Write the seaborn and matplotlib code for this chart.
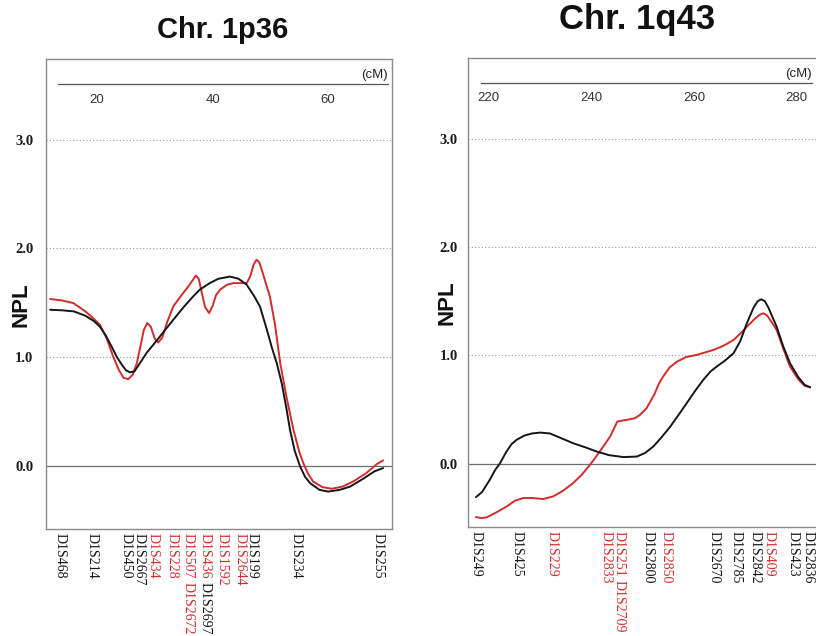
import numpy as np
import pandas as pd
import matplotlib
matplotlib.use("Agg")
import matplotlib.pyplot as plt
from matplotlib.ticker import MultipleLocator, FuncFormatter
import seaborn as sns

# ---------------- data ----------------
# Chr. 1p36
p36_black_cm = [11.9, 14.0, 16.0, 18.0, 19.5, 20.5, 21.5, 22.5, 23.4, 24.3, 25.0, 25.7, 26.5, 27.5,
                28.6, 30.0, 31.5, 33.2, 35.0, 36.5, 37.8, 39.5, 41.0, 43.0, 44.5, 45.9, 47.2, 48.2,
                49.4, 50.3, 51.1, 52.0, 52.8, 53.4, 54.2, 55.1, 56.0, 56.9, 58.5, 60.0, 62.0, 63.8,
                66.0, 68.0, 69.5]
p36_black_npl = [1.435, 1.43, 1.42, 1.38, 1.33, 1.28, 1.20, 1.10, 1.005, 0.93, 0.88, 0.86, 0.87, 0.95,
                 1.04, 1.13, 1.23, 1.343, 1.46, 1.55, 1.62, 1.68, 1.72, 1.74, 1.72, 1.665, 1.56, 1.465,
                 1.25, 1.08, 0.945, 0.75, 0.52, 0.33, 0.14, 0.0, -0.10, -0.16, -0.22, -0.236, -0.22, -0.19,
                 -0.12, -0.05, -0.02]
p36_red_cm = [11.9, 14.0, 15.9, 18.0, 19.5, 20.5, 21.7, 22.8, 23.8, 24.6, 25.4, 26.2, 26.9, 27.6,
              28.1, 28.7, 29.3, 30.0, 30.6, 31.3, 32.2, 33.2, 34.5, 35.8, 36.6, 37.1, 37.6, 38.1, 38.7, 39.4,
              40.0, 40.6, 41.3, 42.5, 43.6, 44.8, 45.9, 46.5, 47.1, 47.6, 48.1, 48.7, 49.2, 49.9, 50.8, 51.7, 52.8,
              54.0, 55.0, 55.7, 56.5, 57.4, 59.0, 60.6, 62.5, 64.3, 66.5, 68.5, 69.5]
p36_red_npl = [1.534, 1.52, 1.497, 1.42, 1.35, 1.297, 1.17, 1.005, 0.88, 0.81, 0.797, 0.84, 0.945, 1.12,
               1.25, 1.313, 1.28, 1.17, 1.134, 1.18, 1.33, 1.466, 1.56, 1.65, 1.71, 1.75, 1.72, 1.60, 1.46, 1.405,
               1.47, 1.57, 1.62, 1.665, 1.68, 1.68, 1.68, 1.74, 1.85, 1.895, 1.87, 1.77, 1.68, 1.56, 1.30, 0.945, 0.63,
               0.33, 0.13, 0.025, -0.07, -0.144, -0.195, -0.21, -0.19, -0.144, -0.07, 0.02, 0.05]

p36_markers = ["D1S468", "D1S214", "D1S450", "D1S2667", "D1S434", "D1S228", "D1S507", "D1S2672",
               "D1S436", "D1S2697", "D1S1592", "D1S2644", "D1S199", "D1S234", "D1S255"]
p36_marker_cm = [13.55, 19.2, 25.0, 27.3, 29.7, 33.0, 35.1, 36.3, 38.6, 38.9, 41.7, 44.7, 46.9, 54.5, 68.7]
p36_marker_red = [False, False, False, False, True, True, True, True, True, False, True, True, False, False, False]

# Chr. 1q43
q43_black_cm = [217.6, 218.8, 220.3, 221.3, 222.3, 223.5, 224.5, 225.5, 227.0, 228.5, 230.1, 232.0,
                234.0, 236.5, 239.0, 241.1, 243.5, 246.3, 248.9, 250.5, 252.1, 253.8, 255.4, 257.0,
                258.6, 260.2, 261.8, 263.2, 264.4, 266.0, 267.7, 269.0, 270.3, 271.6, 272.4, 273.1, 273.8, 274.5,
                276.1, 277.4, 278.7, 280.3, 281.5, 282.6]
q43_black_npl = [-0.307, -0.26, -0.147, -0.06, 0.006, 0.11, 0.18, 0.221, 0.26, 0.28, 0.288, 0.28,
                 0.24, 0.19, 0.15, 0.113, 0.08, 0.062, 0.067, 0.10, 0.159, 0.25, 0.343, 0.45,
                 0.559, 0.67, 0.773, 0.85, 0.896, 0.95, 1.019, 1.13, 1.296, 1.44, 1.50, 1.517, 1.50, 1.44,
                 1.264, 1.08, 0.927, 0.80, 0.73, 0.706]
q43_red_cm = [217.6, 218.6, 219.7, 221.5, 223.6, 225.2, 226.8, 228.5, 230.7, 232.6, 234.5, 236.5,
              238.2, 239.8, 241.8, 243.7, 245.1, 246.9, 248.5, 249.5, 250.8, 252.3, 253.2, 254.0,
              255.3, 256.7, 258.5, 260.5, 263.8, 265.8, 267.7, 269.0, 270.3, 271.9, 272.8, 273.5, 274.2, 274.8,
              276.1, 277.4, 278.7, 280.3, 281.5, 282.6]
q43_red_npl = [-0.491, -0.50, -0.494, -0.45, -0.393, -0.34, -0.316, -0.315, -0.325, -0.301, -0.25, -0.178,
               -0.10, -0.009, 0.12, 0.251, 0.39, 0.405, 0.42, 0.451, 0.513, 0.64, 0.74, 0.804,
               0.89, 0.942, 0.985, 1.004, 1.05, 1.09, 1.142, 1.20, 1.264, 1.34, 1.375, 1.388, 1.37, 1.33,
               1.234, 1.06, 0.896, 0.78, 0.72, 0.706]

q43_markers = ["D1S249", "D1S425", "D1S229", "D1S2833", "D1S251", "D1S2709", "D1S2800", "D1S2850",
               "D1S2670", "D1S2785", "D1S2842", "D1S409", "D1S423", "D1S2836"]
q43_marker_cm = [217.6, 225.5, 232.5, 243.9, 245.3, 245.6, 251.0, 254.5, 264.0, 268.2, 272.7, 274.4, 279.9, 282.6]
q43_marker_red = [False, False, True, True, True, True, False, True, False, False, False, True, False, False]

npl_ticks = [0.0, 1.0, 2.0, 3.0]
titles = ["Chr. 1p36", "Chr. 1q43"]

# ---------------- style ----------------
sns.set_theme(style="white")
plt.rcParams["font.family"] = ["Liberation Sans", "DejaVu Sans"]

W, H = 816, 636
fig = plt.figure(figsize=(W / 100, H / 100), dpi=100)
fig.patch.set_facecolor("white")

RED = "#d42b2b"
BLACK = "#151515"
FRAME = "#8a8a8a"
SERIF = ["Liberation Serif", "DejaVu Serif"]


def fx(px):
    return px / W


def fy(py):
    return 1 - py / H


panels = [
    dict(box=(46, 59, 392, 529), xlim=(11.18, 71.04), cm_bounds=(13.25, 70.35), cm_y=84,
         label_every=20,
         black=(p36_black_cm, p36_black_npl), red=(p36_red_cm, p36_red_npl),
         markers=p36_markers, mcm=p36_marker_cm, mred=p36_marker_red,
         pairs=[("D1S507", "D1S2672"), ("D1S436", "D1S2697")], nudge={},
         title=titles[0], title_xy=(223, 29.5), title_size=21, npl_xy=(21, 305), ytick_pad=9,
         right_spine=True),
    dict(box=(467.7, 58.3, 816, 526.7), xlim=(216.0, 283.75), cm_bounds=(218.6, 282.9), cm_y=82.7,
         label_every=20,
         black=(q43_black_cm, q43_black_npl), red=(q43_red_cm, q43_red_npl),
         markers=q43_markers, mcm=q43_marker_cm, mred=q43_marker_red,
         pairs=[("D1S251", "D1S2709")],
         nudge={"D1S2833": -5, "D1S2842": -4, "D1S409": 1, "D1S423": -3, "D1S2836": -2},
         title=titles[1], title_xy=(637, 19.5), title_size=25, npl_xy=(447, 303), ytick_pad=7,
         right_spine=False),
]

for P in panels:
    x0, y0, x1, y1 = P["box"]
    ax = fig.add_axes([fx(x0), fy(y1), fx(x1 - x0), (y1 - y0) / H])
    ax.set_facecolor("white")
    ax.set_xlim(*P["xlim"])
    ax.set_ylim(-0.58, 3.74)

    # grid
    for v in npl_ticks[1:]:
        ax.axhline(v, color="#9a9a9a", lw=0.8, ls=(0, (1, 2)), zorder=1)
    ax.axhline(0.0, color="#6e6e6e", lw=0.9, zorder=1)

    # curves
    bx, by = P["black"]
    rx, ry = P["red"]
    sns.lineplot(x=rx, y=ry, ax=ax, color=RED, lw=1.4, sort=False, zorder=3)
    sns.lineplot(x=bx, y=by, ax=ax, color=BLACK, lw=1.4, sort=False, zorder=4)

    # spines
    for s in ["left", "top", "bottom", "right"]:
        ax.spines[s].set_color(FRAME)
        ax.spines[s].set_linewidth(1.0)
    ax.spines["right"].set_visible(P["right_spine"])

    # y ticks
    ax.set_yticks(npl_ticks)
    ax.set_yticklabels([f"{v:.1f}" for v in npl_ticks], fontfamily=SERIF,
                       fontweight="bold", fontsize=10.5, color="#1a1a1a")
    ax.tick_params(axis="y", length=0, pad=P["ytick_pad"])

    # bottom marker ticks
    ax.set_xticks(P["mcm"])
    ax.set_xticklabels([""] * len(P["mcm"]))
    ax.tick_params(axis="x", length=4, width=0.9, color=FRAME, direction="out", pad=0)
    ax.set_xlabel("")
    ax.set_ylabel("")

    # marker labels
    pos = dict(zip(P["markers"], P["mcm"]))
    col = {m: (RED if r else BLACK) for m, r in zip(P["markers"], P["mred"])}
    paired = {}
    for a, b in P["pairs"]:
        mid = (pos[a] + pos[b]) / 2
        paired[a] = (mid, 0)
        paired[b] = (mid, 1)
    for m in P["markers"]:
        if m in paired:
            xv, row = paired[m]
        else:
            xv, row = pos[m], 0
        dx = P["nudge"].get(m, 0)
        dy = -4 if row == 0 else -53
        ax.annotate(m, xy=(xv, 0), xycoords=("data", "axes fraction"),
                    xytext=(dx, dy), textcoords="offset pixels",
                    rotation=270, ha="center", va="top", fontsize=10,
                    fontfamily=SERIF, color=col[m], annotation_clip=False)

    # top cM axis
    cm_ax = fig.add_axes([fx(x0), fy(P["cm_y"]), fx(x1 - x0), 0.0001])
    cm_ax.set_xlim(*P["xlim"])
    cm_ax.patch.set_visible(False)
    for s in ["left", "top", "right"]:
        cm_ax.spines[s].set_visible(False)
    cm_ax.spines["bottom"].set_color("#555555")
    cm_ax.spines["bottom"].set_linewidth(0.9)
    cm_ax.spines["bottom"].set_bounds(*P["cm_bounds"])
    cm_ax.set_yticks([])
    lo, hi = P["xlim"]
    cm_ax.set_xticks([t for t in np.arange(5 * np.ceil(lo / 5), hi + 0.01, 5)
                      if P["cm_bounds"][0] - 0.01 <= t <= P["cm_bounds"][1] + 0.01])
    every = P["label_every"]
    cm_ax.xaxis.set_major_formatter(
        FuncFormatter(lambda v, pos_, e=every: f"{int(round(v))}" if abs(v / e - round(v / e)) < 1e-6 else ""))
    cm_ax.tick_params(axis="x", length=5, width=0.9, color="#666666", direction="out",
                      labelsize=9.5, labelcolor="#333333", pad=2)
    cm_ax.set_xlim(*P["xlim"])
    cm_ax.annotate("(cM)", xy=(P["cm_bounds"][1], 1), xycoords=("data", "axes fraction"),
                   xytext=(0, 3), textcoords="offset pixels", ha="right", va="bottom",
                   fontsize=9.5, color="#222222", annotation_clip=False)

    # titles and NPL
    tx, ty = P["title_xy"]
    fig.text(fx(tx), fy(ty), P["title"], ha="center", va="center", fontsize=P["title_size"],
             fontweight="bold", color="#111111")
    nx, ny = P["npl_xy"]
    fig.text(fx(nx), fy(ny), "NPL", ha="center", va="center", rotation=90, fontsize=16,
             fontweight="bold", color="#111111")

fig.savefig("out.png", dpi=100, facecolor="white")
